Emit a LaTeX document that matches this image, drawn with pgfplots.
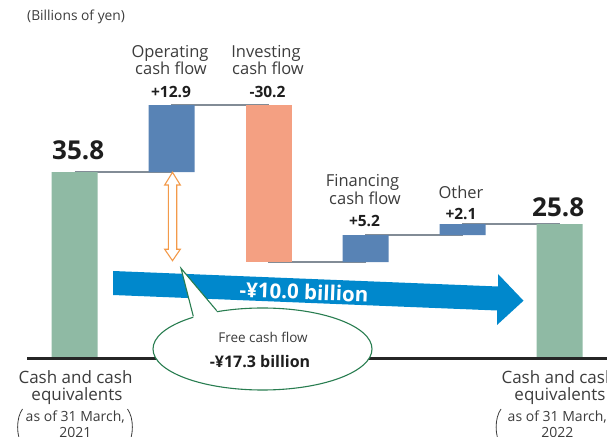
\documentclass[border=0pt]{standalone}
\usepackage{fontspec}
\setmainfont{Open Sans}
\usepackage{pgfplots}
\pgfplotsset{compat=1.18}
\definecolor{cgreen}{RGB}{143,186,164}
\definecolor{cblue}{RGB}{88,131,181}
\definecolor{csalmon}{RGB}{244,160,130}
\definecolor{carrow}{RGB}{0,136,204}
\definecolor{corange}{RGB}{243,154,74}
\definecolor{cellipse}{RGB}{40,125,80}
\definecolor{cconn}{RGB}{130,140,150}
\definecolor{ctext}{RGB}{60,60,60}
\definecolor{cnum}{RGB}{30,30,30}
\pgfplotsset{wf/.style={scale only axis, width=607pt, height=436pt,
  xmin=-0.770, xmax=5.488, ymin=-14.94, ymax=68.9, hide axis, clip=false}}
\tikzset{
  lab/.style={anchor=base, text=ctext, font=\fontsize{16.5}{18}\selectfont, inner sep=0pt},
  num/.style={anchor=base, text=cnum, font=\bfseries\fontsize{15.5}{17}\selectfont, inner sep=0pt},
  big/.style={anchor=base west, text=cnum, font=\bfseries\fontsize{26}{28}\selectfont, inner sep=0pt},
  bot/.style={anchor=base, text=ctext, font=\fontsize{17}{18}\selectfont, inner sep=0pt},
  bots/.style={anchor=base, text=ctext, font=\fontsize{14}{15}\selectfont, inner sep=0pt},
}
\begin{document}
\begin{tikzpicture}
\begin{axis}[wf]
\addplot[const plot, cconn, line width=1.3pt] coordinates {(0,35.8)(1,48.7)(2,18.5)(3,23.7)(4,25.8)(5,25.8)};
\end{axis}
\begin{axis}[wf, ybar stacked, bar width=46pt]
\addplot[draw=none, fill=none] coordinates {(0,0)(1,35.8)(2,18.5)(3,18.5)(4,23.7)(5,0)};
\addplot[draw=none, fill=cgreen] coordinates {(0,35.8)(1,0)(2,0)(3,0)(4,0)(5,25.8)};
\addplot[draw=none, fill=cblue] coordinates {(0,0)(1,12.9)(2,0)(3,5.2)(4,2.1)(5,0)};
\addplot[draw=none, fill=csalmon] coordinates {(0,0)(1,0)(2,30.2)(3,0)(4,0)(5,0)};
\coordinate (TL) at (rel axis cs:0,1);
\end{axis}
\begin{scope}[shift={(TL)}, x=1pt, y=-1pt]
% baseline
\draw[black!85, line width=2.5pt] (27,358.3) -- (607,358.3);
% big blue arrow
\fill[carrow] (113,271) -- (498,286.5) -- (498,274) -- (523.5,300.7) -- (497,325) -- (497,310.5) -- (113,295) -- cycle;
\node[white, font=\bfseries\fontsize{20.5}{21}\selectfont, rotate=-2.3, inner sep=0pt] at (304,292) {-¥10.0 billion};
% orange double arrow
\draw[corange, line width=1.1pt, fill=white, line join=miter]
  (172.5,172.3) -- (180.3,185) -- (176.7,185) -- (176.7,249.3) -- (180.3,249.3) -- (172.5,260.7)
  -- (164.7,249.3) -- (168.3,249.3) -- (168.3,185) -- (164.7,185) -- cycle;
% callout
\draw[cellipse, line width=1.1pt, fill=white] (262.5,349) ellipse [x radius=109.5, y radius=41];
\fill[white] (193.3,316.3) -- (181,268.3) -- (216.7,310.7) -- (217,320) -- (194,322) -- cycle;
\draw[cellipse, line width=1.1pt, line join=miter] (193.3,316.3) -- (181,268.3) -- (216.7,310.7);
\node[anchor=base, text=ctext, font=\fontsize{13.5}{15}\selectfont, inner sep=0pt] at (263,343) {Free cash flow};
\node[anchor=base, text=cnum, font=\bfseries\fontsize{16}{17}\selectfont, inner sep=0pt] at (260,367.5) {-¥17.3 billion};
% unit
\node[anchor=base west, text=ctext, font=\fontsize{13.8}{15}\selectfont, inner sep=0pt] at (27,20.5) {(Billions of yen)};
% category labels
\node[lab] at (170,57.3) {Operating};
\node[lab] at (171,74.5) {cash flow};
\node[num] at (171,97.7) {+12.9};
\node[lab] at (266,57.3) {Investing};
\node[lab] at (268,74.5) {cash flow};
\node[num] at (267.5,97.7) {-30.2};
\node[lab] at (362.5,186.7) {Financing};
\node[lab] at (365,205) {cash flow};
\node[num] at (364.5,226.7) {+5.2};
\node[lab] at (461,199) {Other};
\node[num] at (461,220) {+2.1};
\node[big] at (52,159.3) {35.8};
\node[big] at (532,216.7) {25.8};
% bottom labels
\node[bot] at (75.5,384) {Cash and cash};
\node[bot] at (77,401) {equivalents};
\node[bots] at (75.3,421) {as of 31 March,};
\node[bots] at (75.3,437.5) {2021};
\draw[ctext, line width=0.8pt] (22.5,409) .. controls (16,418) and (16,436) .. (22.5,446);
\draw[ctext, line width=0.8pt] (127.5,409) .. controls (134,418) and (134,436) .. (127.5,446);
\node[bot] at (558.5,384) {Cash and cash};
\node[bot] at (560,401) {equivalents};
\node[bots] at (557.3,421) {as of 31 March,};
\node[bots] at (557.3,437.5) {2022};
\draw[ctext, line width=0.8pt] (501,409) .. controls (494.5,418) and (494.5,436) .. (501,446);
\end{scope}
\pgfresetboundingbox
\begin{scope}[shift={(TL)}, x=1pt, y=-1pt]
\useasboundingbox (0,0) rectangle (607,436);
\end{scope}
\end{tikzpicture}
\end{document}
